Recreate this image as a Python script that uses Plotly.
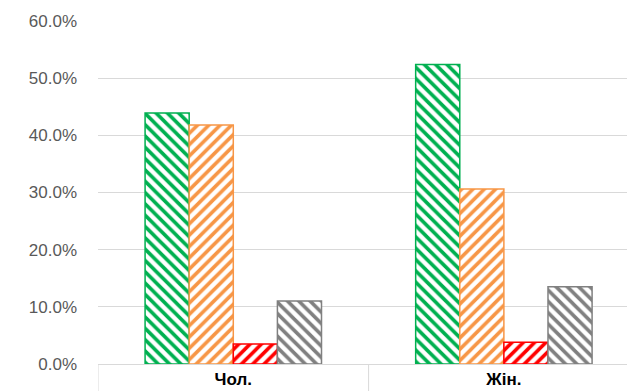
import plotly.graph_objects as go

categories = ["Чол.", "Жін."]
series_a = [0.439, 0.524]   # green
series_b = [0.418, 0.306]   # orange
series_c = [0.035, 0.038]   # red
series_d = [0.110, 0.135]   # gray
series_names = ["A", "B", "C", "D"]
tick_vals = [0, 0.1, 0.2, 0.3, 0.4, 0.5, 0.6]

colors = ["#00B050", "#F79646", "#FF0000", "#808080"]
shapes_pat = ["\\", "/", "/", "\\"]

fig = go.Figure()
for name, vals, col, shp in zip(series_names, [series_a, series_b, series_c, series_d], colors, shapes_pat):
    fig.add_trace(go.Bar(
        x=categories, y=vals, name=name,
        marker=dict(color="white",
                    line=dict(color=col, width=1.5),
                    pattern=dict(shape=shp, fgcolor=col, bgcolor="white", fgopacity=1,
                                 size=8, solidity=0.45, fillmode="replace")),
    ))

fig.update_layout(
    width=627, height=391,
    margin=dict(l=98, r=0, t=21, b=27, autoexpand=False),
    paper_bgcolor="white", plot_bgcolor="white",
    barmode="group", bargap=0.348, bargroupgap=0,
    showlegend=False,
    font=dict(family="Liberation Sans, Arial", color="#595959"),
    yaxis=dict(range=[0, 0.6], tickvals=tick_vals, tickformat=".1%",
               showgrid=True, gridcolor="#D9D9D9", gridwidth=1,
               zeroline=False, showline=False, ticks="", automargin=False,
               tickfont=dict(size=17, color="#595959"),
               ticklabelstandoff=20),
    xaxis=dict(range=[-0.5, 1.455], showline=True, linecolor="#D9D9D9", linewidth=1,
               ticks="", automargin=False, ticklabelstandoff=0,
               tickfont=dict(size=17, color="black", family="Liberation Sans, Arial", weight="bold"),
               showgrid=False),
    shapes=[dict(type="line", xref="x", yref="y domain", x0=xv, x1=xv, y0=0, y1=-0.1,
                 line=dict(color="#D9D9D9", width=1)) for xv in [-0.5, 0.5]],
)

fig.write_html("out.html", config={"displayModeBar": False},
               post_script="document.body.style.margin='0';document.body.style.overflow='hidden';")
